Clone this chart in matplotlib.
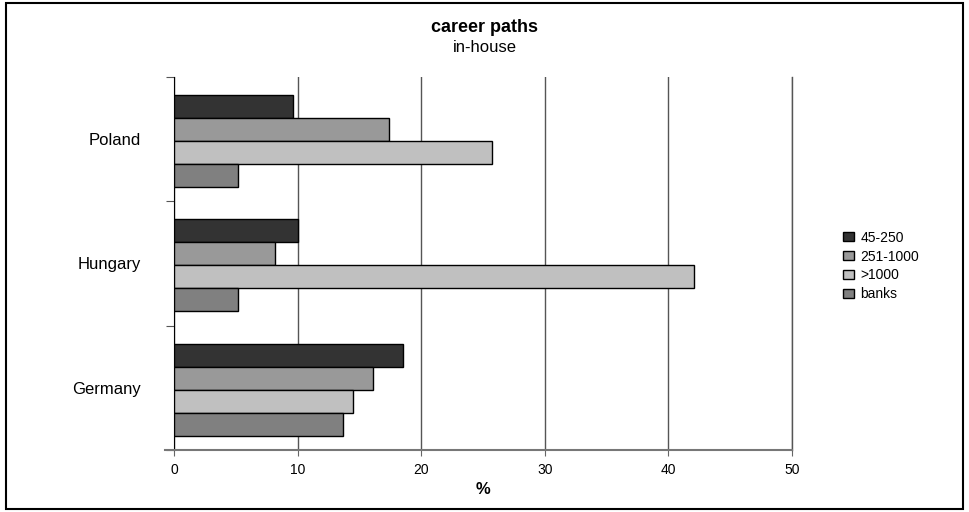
import matplotlib
matplotlib.use("Agg")
import matplotlib.pyplot as plt
import numpy as np
from matplotlib.patches import Rectangle

plt.rcParams['font.family'] = ['Liberation Sans', 'DejaVu Sans']

countries = ['Germany', 'Hungary', 'Poland']
series = ['45-250', '251-1000', '>1000', 'banks']
# values per country (Germany, Hungary, Poland)
v_45_250 = [18.5, 10.0, 9.6]
v_251_1000 = [16.1, 8.2, 17.4]
v_over_1000 = [14.5, 42.1, 25.7]
v_banks = [13.7, 5.2, 5.2]
colors = ['#333333', '#999999', '#c0c0c0', '#808080']

fig = plt.figure(figsize=(9.69, 5.12), dpi=100)
ax = fig.add_axes([174 / 969, 1 - 450 / 512, 618 / 969, 373 / 512])

y = np.arange(len(countries))
h = 0.185
for i, (vals, name) in enumerate(zip([v_45_250, v_251_1000, v_over_1000, v_banks], series)):
    ax.barh(y - 0.015 + (1.5 - i) * h, vals, height=h, color=colors[i],
            edgecolor='black', linewidth=1, label=name, zorder=3)

ax.set_xlim(0, 50)
ax.set_ylim(-0.5, 2.5)
ax.set_xticks(range(0, 51, 10))
ax.tick_params(axis='x', direction='out', length=4, color='#666666',
               labelsize=10, pad=5)

# category boundaries as major ticks, names on minor ticks
ax.set_yticks([-0.5, 0.5, 1.5, 2.5])
ax.set_yticklabels([])
ax.set_yticks(y, minor=True)
ax.set_yticklabels(countries, minor=True, fontsize=12)
ax.tick_params(axis='y', which='major', direction='out', length=6, color='#555555')
ax.tick_params(axis='y', which='minor', length=0, pad=24)

ax.grid(axis='x', color='#555555', linewidth=1)
ax.axvline(50, color='#555555', linewidth=1, clip_on=False, zorder=1)
ax.set_axisbelow(True)
for s in ['top', 'right']:
    ax.spines[s].set_visible(False)
ax.spines['bottom'].set_color('#777777')
ax.spines['bottom'].set_linewidth(1.5)
ax.spines['bottom'].set_bounds(-0.75, 50)
ax.spines['left'].set_color('black')

ax.set_xlabel('%', fontsize=12, fontweight='bold', labelpad=4)

fig.text(485 / 969, 1 - 27 / 512, 'career paths', ha='center', va='center',
         fontsize=13, fontweight='bold')
fig.text(485 / 969, 1 - 47 / 512, 'in-house', ha='center', va='center', fontsize=12)

fig.legend(loc='center left', bbox_to_anchor=(830 / 969, 1 - 266 / 512),
           frameon=False, fontsize=10, handlelength=0.8, handleheight=0.6,
           handletextpad=0.5, labelspacing=0.35)

fig.patches.append(Rectangle((0.006, 0.005), 0.988, 0.99, transform=fig.transFigure,
                             fill=False, edgecolor='black', linewidth=1.5))

fig.savefig('out.png', dpi=100)
